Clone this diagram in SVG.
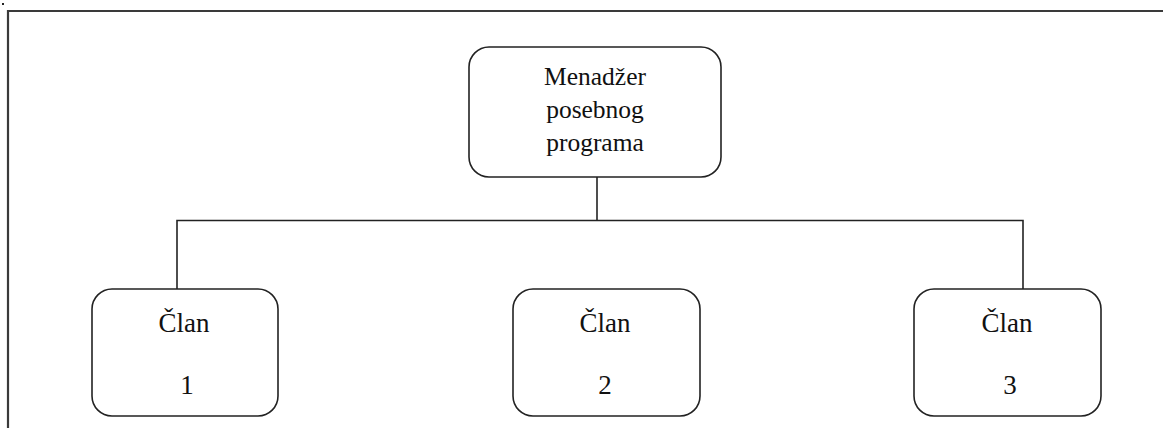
<svg xmlns="http://www.w3.org/2000/svg" width="1163" height="428" viewBox="0 0 1163 428">
<style>
.box{fill:#fff;stroke:#222;stroke-width:1.6}
.lbl{font-family:"Liberation Serif","Times New Roman",serif;fill:#111;text-anchor:middle}
.conn{stroke:#222;stroke-width:1.6;fill:none}
.frame{stroke:#3a3a3a;stroke-width:2.2;fill:none}
</style>
<rect width="1163" height="428" fill="#fff"/>
<rect x="2" y="3" width="2" height="2" fill="#222"/>
<path class="frame" d="M8 428 V11 H1163"/>
<g id="connectors">
<path class="conn" d="M597 177 V220.5"/>
<path class="conn" d="M177 289 V220.5 H1023 V289"/>
</g>
<g id="manager">
<rect class="box" x="469" y="47" width="252" height="130" rx="20"/>
<text class="lbl" font-size="25.5" x="595" y="85">Menadžer</text>
<text class="lbl" font-size="25.5" x="595" y="118">posebnog</text>
<text class="lbl" font-size="25.5" x="595" y="151">programa</text>
</g>
<g id="clan1">
<rect class="box" x="92" y="289" width="186" height="127" rx="20"/>
<text class="lbl" font-size="27" x="184" y="332">Član</text>
<text class="lbl" font-size="27" x="187" y="394">1</text>
</g>
<g id="clan2">
<rect class="box" x="513" y="289" width="187" height="127" rx="20"/>
<text class="lbl" font-size="27" x="605" y="332">Član</text>
<text class="lbl" font-size="27" x="605" y="394">2</text>
</g>
<g id="clan3">
<rect class="box" x="914" y="289" width="187" height="127" rx="20"/>
<text class="lbl" font-size="27" x="1007" y="332">Član</text>
<text class="lbl" font-size="27" x="1010" y="394">3</text>
</g>
</svg>
